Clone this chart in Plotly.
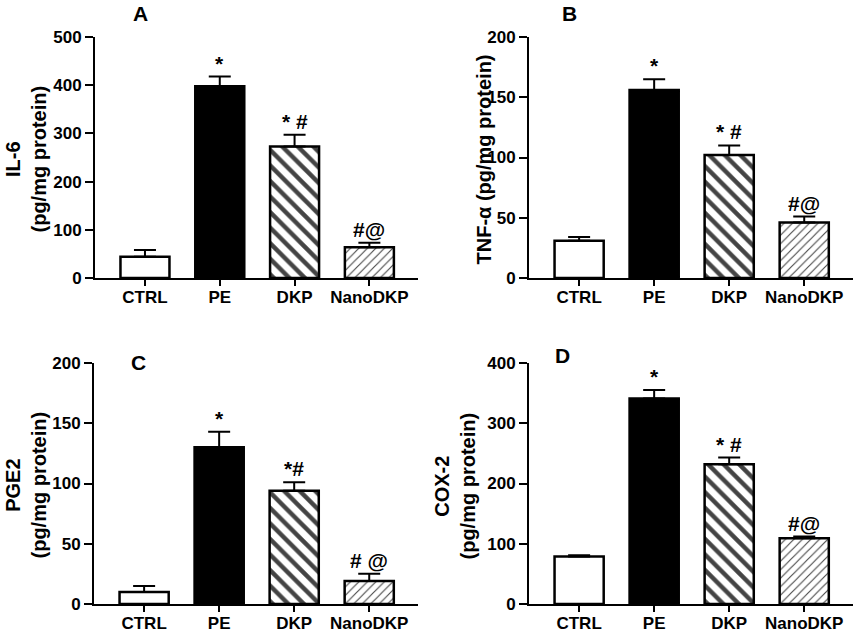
import plotly.graph_objects as go

# groups on the x axis
groups = ["CTRL", "PE", "DKP", "NanoDKP"]

# panel A - IL-6
il6_mean = [44, 398, 273, 64]
il6_err = [14, 20, 24, 9]
il6_sig = ["", "*", "* #", "#@"]

# panel B - TNF-a
tnf_mean = [31, 156, 102, 46]
tnf_err = [3, 9, 8, 5]
tnf_sig = ["", "*", "* #", "#@"]

# panel C - PGE2
pge2_mean = [10, 130, 94, 19]
pge2_err = [5, 13, 7, 6]
pge2_sig = ["", "*", "*#", "# @"]

# panel D - COX-2
cox2_mean = [79, 341, 232, 109]
cox2_err = [2, 14, 11, 3]
cox2_sig = ["", "*", "* #", "#@"]

FONT = "Liberation Sans, Arial, sans-serif"

W, H = 858, 633


def fx(px):
    return px / W


def fy(py):
    return 1 - py / H


panels = [
    # letter, means, errors, sig labels, y max, dtick, y title, (left, right, top, bottom), letter pos, title x
    ("A", il6_mean, il6_err, il6_sig, 500, 100, "IL-6<br>(pg/mg protein)",
     (95, 418, 37, 278), (140, 14), 25),
    ("B", tnf_mean, tnf_err, tnf_sig, 200, 50, "TNF-α (pg/mg protein)",
     (529, 853, 37, 278), (569, 14), 483),
    ("C", pge2_mean, pge2_err, pge2_sig, 200, 50, "PGE2<br>(pg/mg protein)",
     (94, 418, 363, 604), (138, 362), 25),
    ("D", cox2_mean, cox2_err, cox2_sig, 400, 100, "COX-2<br>(pg/mg protein)",
     (529, 853, 363, 604), (562, 355), 454),
]

fig = go.Figure()
annotations = []

for i, (letter, means, errs, sig, ymax, dtick, ytitle, box, lpos, tx) in enumerate(panels):
    n = "" if i == 0 else str(i + 1)
    left, right, top, bottom = box
    fig.add_trace(go.Bar(
        x=groups, y=means,
        xaxis="x" + n, yaxis="y" + n,
        marker=dict(
            color=["white", "black", "white", "white"],
            line=dict(color="black", width=2.5),
            pattern=dict(
                shape=["", "", "\\", "/"],
                size=[8, 8, 11, 6],
                solidity=[0.2, 0.2, 0.4, 0.18],
                fgcolor="black",
                fgopacity=1,
                fillmode="overlay",
            ),
        ),
        error_y=dict(type="data", symmetric=False, array=errs,
                     arrayminus=[0] * len(errs),
                     color="black", thickness=2, width=11),
        showlegend=False,
    ))

    fig.update_layout({
        "xaxis" + n: dict(
            domain=[fx(left), fx(right)], anchor="y" + n, type="category",
            range=[-0.668, 3.65], automargin=False,
            showline=True, linecolor="black", linewidth=2,
            ticks="outside", ticklen=6, tickwidth=2, tickcolor="black",
            ticklabelstandoff=-3,
            showgrid=False, zeroline=False,
            tickfont=dict(family=FONT, size=17, color="black", weight="bold"),
        ),
        "yaxis" + n: dict(
            domain=[fy(bottom), fy(top)], anchor="x" + n, range=[0, ymax], dtick=dtick,
            automargin=False,
            showline=True, linecolor="black", linewidth=2,
            ticks="outside", ticklen=8, tickwidth=2, tickcolor="black",
            showgrid=False, zeroline=False,
            tickfont=dict(family=FONT, size=17, color="black", weight="bold"),
        ),
    })

    # panel letter
    annotations.append(dict(
        text=letter, xref="paper", yref="paper",
        x=fx(lpos[0]), y=fy(lpos[1]),
        xanchor="center", yanchor="middle", showarrow=False,
        font=dict(family=FONT, size=21, color="black", weight="bold"),
    ))

    # y axis title
    annotations.append(dict(
        text=ytitle, xref="paper", yref="paper",
        x=fx(tx), y=fy((top + bottom) / 2 + 2),
        xanchor="center", yanchor="middle", showarrow=False, textangle=-90,
        font=dict(family=FONT, size=20, color="black", weight="bold"),
    ))

    # significance marks above the error bars
    for g, m, e, s in zip(groups, means, errs, sig):
        if s:
            annotations.append(dict(
                text=s, x=g, y=m + e, xref="x" + n, yref="y" + n,
                xanchor="center", yanchor="bottom", showarrow=False, yshift=0,
                font=dict(family=FONT, size=21, color="black", weight="bold"),
            ))

fig.update_layout(
    width=W, height=H,
    margin=dict(l=0, r=0, t=0, b=0),
    bargap=0.345,
    plot_bgcolor="white", paper_bgcolor="white",
    annotations=annotations,
)

# drop the default page margin so the figure sits in the corner of the window
fig.write_html("out.html", config={"displayModeBar": False},
               post_script="document.body.style.margin = '0';")
